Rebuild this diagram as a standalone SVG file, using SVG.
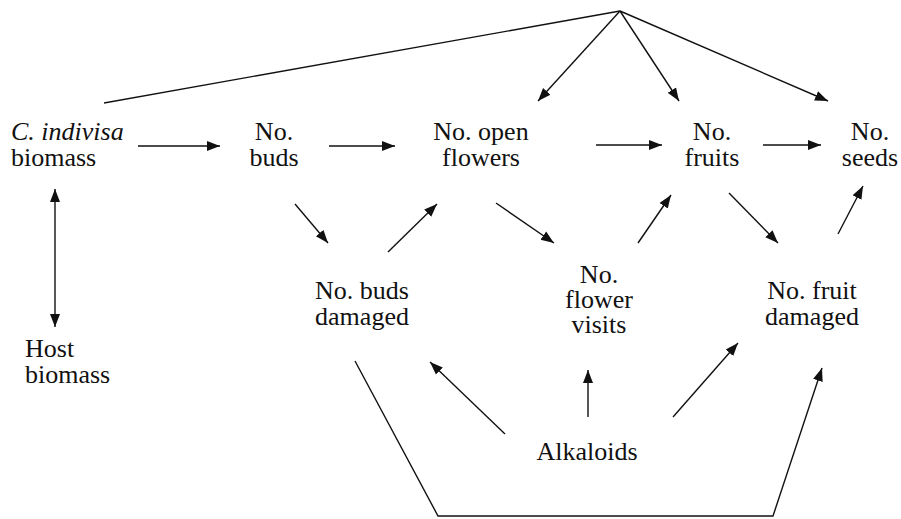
<svg xmlns="http://www.w3.org/2000/svg" width="901" height="519" viewBox="0 0 901 519">
<style>
text{font-family:'Liberation Serif','Times New Roman','DejaVu Serif',serif;font-size:26px;fill:#111}
.m{text-anchor:middle}
.c line,.c polyline{stroke:#111;stroke-width:1.4;fill:none}
.a{marker-end:url(#ah)}
</style>
<defs>
<marker id="ah" markerUnits="userSpaceOnUse" markerWidth="14" markerHeight="12" refX="13" refY="5" orient="auto-start-reverse" viewBox="0 0 14 10">
<path d="M0,0 L13,5 L0,10 z" fill="#111"/>
</marker>
</defs>
<rect width="901" height="519" fill="#fff"/>
<g class="c" id="connectors">
<polyline points="104,103 620,11"/>
<line class="a" x1="620" y1="11" x2="538" y2="101"/>
<line class="a" x1="620" y1="11" x2="679" y2="101"/>
<line class="a" x1="620" y1="11" x2="828" y2="101"/>
<line class="a" x1="138" y1="146" x2="220" y2="146"/>
<line class="a" x1="329" y1="146" x2="395" y2="146"/>
<line class="a" x1="596" y1="145" x2="662" y2="145"/>
<line class="a" x1="763" y1="145" x2="821" y2="145"/>
<line class="a" x1="55" y1="258" x2="55" y2="189"/>
<line class="a" x1="55" y1="258" x2="55" y2="327"/>
<line class="a" x1="295" y1="204" x2="328" y2="243"/>
<line class="a" x1="388" y1="252" x2="437" y2="204"/>
<line class="a" x1="496" y1="203" x2="554" y2="243"/>
<line class="a" x1="638" y1="243" x2="671" y2="195"/>
<line class="a" x1="729" y1="193" x2="778" y2="243"/>
<line class="a" x1="838" y1="234" x2="863" y2="186"/>
<line class="a" x1="505" y1="434" x2="430" y2="362"/>
<line class="a" x1="588" y1="417" x2="588" y2="370"/>
<line class="a" x1="673" y1="417" x2="738" y2="343"/>
<polyline class="a" points="355,361 438,516 773,516 822,368"/>
</g>
<g id="cindivisa"><text x="11" y="140" font-style="italic">C. indivisa</text><text x="11" y="166">biomass</text></g>
<g id="host"><text x="25" y="357">Host</text><text x="25" y="383">biomass</text></g>
<g id="buds"><text class="m" x="274" y="140">No.</text><text class="m" x="274" y="166">buds</text></g>
<g id="openflowers"><text class="m" x="481" y="140">No. open</text><text class="m" x="481" y="166">flowers</text></g>
<g id="fruits"><text class="m" x="712" y="140">No.</text><text class="m" x="712" y="166">fruits</text></g>
<g id="seeds"><text class="m" x="870" y="140">No.</text><text class="m" x="870" y="166">seeds</text></g>
<g id="budsdamaged"><text class="m" x="362" y="299">No. buds</text><text class="m" x="362" y="325">damaged</text></g>
<g id="flowervisits"><text class="m" x="599" y="283">No.</text><text class="m" x="599" y="308">flower</text><text class="m" x="599" y="333">visits</text></g>
<g id="fruitdamaged"><text class="m" x="812" y="299">No. fruit</text><text class="m" x="812" y="325">damaged</text></g>
<g id="alkaloids"><text class="m" x="587" y="460">Alkaloids</text></g>
</svg>
